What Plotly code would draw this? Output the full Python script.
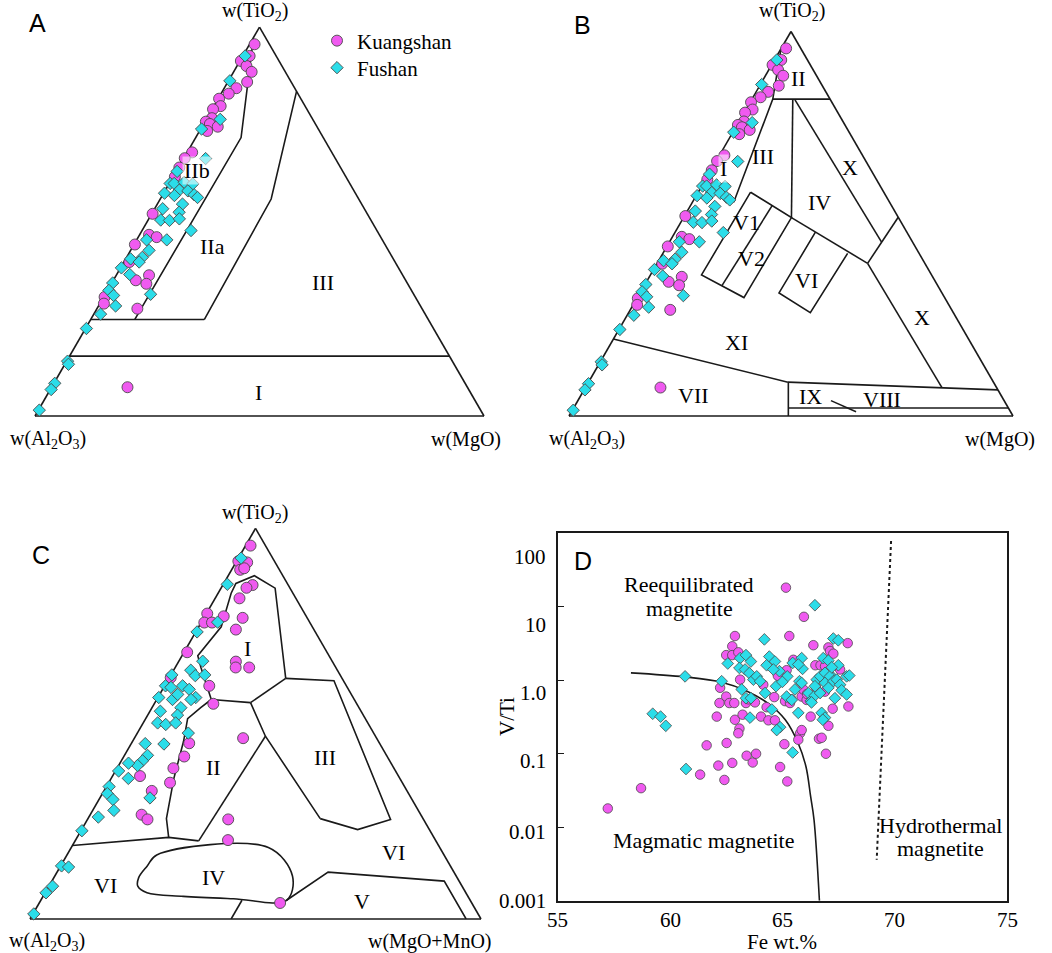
import plotly.graph_objects as go

W, H = 1052, 953
MAG = "#F05AF0"
CYN = "#2BDDE9"
EDGE = "#4a4a4a"
INK = "#1a1a1a"
SERIF = "Liberation Serif, Times New Roman, serif"
SANS = "Liberation Sans, Arial, sans-serif"

# ---------------- data: panels A and B (TiO2 - Al2O3 - MgO), fractions ----------------
AB_K_TiO2 = [0.956, 0.913, 0.926, 0.900, 0.885, 0.859, 0.843, 0.829, 0.816, 0.797, 0.789, 0.766, 0.757, 0.751,
             0.744, 0.733, 0.678, 0.663, 0.639, 0.615, 0.520, 0.466, 0.460, 0.441, 0.396, 0.349, 0.362, 0.340,
             0.306, 0.289, 0.276, 0.074]
AB_K_MgO = [0.011, 0.002, 0.015, 0.021, 0.040, 0.043, 0.027, 0.017, 0.002, 0.015, 0.002, 0.011, 0.002, 0.014,
            0.035, 0.017, 0.011, 0.002, 0.002, 0.004, 0.002, 0.021, 0.041, 0.002, 0.012, 0.050, 0.073, 0.078,
            0.002, 0.009, 0.090, 0.169]
AB_F_TiO2 = [0.926, 0.862, 0.763, 0.738, 0.662, 0.629, 0.598, 0.598, 0.601, 0.597, 0.581, 0.579, 0.573, 0.567,
             0.569, 0.562, 0.545, 0.533, 0.524, 0.504, 0.503, 0.507, 0.477, 0.453, 0.453, 0.426, 0.408, 0.404,
             0.396, 0.381, 0.364, 0.342, 0.323, 0.310, 0.313, 0.283, 0.262, 0.225, 0.141, 0.133, 0.084, 0.068,
             0.015]
AB_F_MgO = [0.005, 0.003, 0.031, 0.002, 0.049, 0.002, 0.002, 0.011, 0.032, 0.053, 0.031, 0.051, 0.002, 0.027,
            0.070, 0.081, 0.056, 0.018, 0.059, 0.028, 0.048, 0.068, 0.109, 0.022, 0.067, 0.041, 0.035, 0.011,
            0.034, 0.002, 0.029, 0.002, 0.003, 0.020, 0.101, 0.038, 0.015, 0.002, 0.002, 0.008, 0.002, 0.002,
            0.002]

# ---------------- data: panel C (TiO2 - Al2O3 - MgO+MnO) ----------------
C_K_TiO2 = [0.956, 0.916, 0.913, 0.894, 0.898, 0.855, 0.848, 0.821, 0.782, 0.759, 0.759, 0.775, 0.771, 0.741,
            0.683, 0.659, 0.644, 0.644, 0.597, 0.551, 0.618, 0.463, 0.450, 0.416, 0.386, 0.349, 0.366, 0.328,
            0.267, 0.255, 0.255, 0.202, 0.041]
C_K_MgOMnO = [0.011, 0.004, 0.025, 0.019, 0.026, 0.066, 0.056, 0.054, 0.002, 0.007, 0.024, 0.042, 0.086, 0.086,
              0.007, 0.127, 0.134, 0.164, 0.099, 0.131, 0.003, 0.241, 0.128, 0.134, 0.125, 0.136, 0.061, 0.106,
              0.114, 0.133, 0.312, 0.338, 0.534]
C_F_TiO2 = [0.924, 0.857, 0.760, 0.735, 0.660, 0.637, 0.623, 0.625, 0.625, 0.597, 0.593, 0.597, 0.588, 0.567,
            0.562, 0.567, 0.562, 0.575, 0.541, 0.532, 0.522, 0.502, 0.498, 0.502, 0.476, 0.449, 0.448, 0.419,
            0.405, 0.393, 0.399, 0.379, 0.360, 0.339, 0.321, 0.306, 0.278, 0.261, 0.310, 0.226, 0.136, 0.133,
            0.084, 0.067, 0.013]
C_F_MgOMnO = [0.006, 0.009, 0.036, 0.003, 0.053, 0.038, 0.055, 0.075, 0.002, 0.002, 0.016, 0.040, 0.059, 0.084,
              0.076, 0.002, 0.035, 0.040, 0.064, 0.023, 0.066, 0.032, 0.052, 0.072, 0.113, 0.031, 0.073, 0.051,
              0.047, 0.042, 0.019, 0.007, 0.038, 0.006, 0.011, 0.031, 0.047, 0.021, 0.111, 0.002, 0.002, 0.019,
              0.008, 0.002, 0.002]

# ---------------- data: panel D (Fe wt.% vs V/Ti) ----------------
D_K_Fe = [65.16, 65.96, 62.89, 65.31, 66.38, 62.77, 67.91, 67.05, 67.12, 67.27,
          62.50, 62.77, 63.04, 63.12, 62.23, 62.50, 62.20, 62.64, 62.86, 63.38,
          63.78, 62.08, 62.89, 63.23, 63.09, 63.04, 61.63, 62.52, 62.15, 62.77,
          63.41, 63.68, 63.83, 62.42, 61.34, 58.71, 57.23, 64.90, 65.22, 65.09,
          64.05, 64.38, 64.67, 64.30, 64.64, 64.15, 65.12, 65.34, 65.86, 65.79,
          65.71, 65.86, 66.26, 66.63, 66.75, 66.94, 67.05, 67.24, 67.94, 65.93,
          66.08, 66.47, 66.70, 65.49, 65.19, 66.90, 67.57, 65.40, 66.10, 66.50,
          64.80, 63.50, 66.90]
D_K_VTi = [18.2, 7.3, 4.0, 4.0, 3.0, 2.9, 3.2, 2.8, 2.5, 2.3,
           2.2, 2.2, 2.4, 1.02, 0.79, 0.60, 0.49, 0.49, 0.49, 0.49,
           0.50, 0.32, 0.29, 0.34, 0.22, 0.19, 0.13, 0.14, 0.069, 0.075,
           0.094, 0.076, 0.10, 0.044, 0.052, 0.034, 0.018, 0.066, 0.042, 0.135,
           0.32, 0.285, 0.285, 0.43, 0.59, 0.87, 0.52, 0.49, 0.60, 0.19,
           0.155, 0.21, 0.32, 0.16, 0.165, 0.10, 0.24, 0.41, 0.44, 0.75,
           0.54, 1.6, 1.6, 1.9, 1.37, 1.55, 1.4, 0.55, 0.65, 0.80,
           1.15, 0.55, 0.70]
D_F_Fe = [66.45, 64.20, 67.27, 67.49, 60.67, 62.30, 59.23, 59.58, 59.81, 60.71,
          65.46, 64.90, 64.75, 64.53, 63.56, 66.75, 66.90, 66.80, 65.71, 62.57,
          63.12, 63.38, 63.60, 63.09, 63.34, 63.53, 64.42, 64.67, 64.30, 64.87,
          65.22, 65.46, 65.86, 65.90, 65.71, 66.82, 67.05, 67.49, 67.27, 67.86,
          67.98, 63.71, 63.86, 64.01, 63.19, 63.38, 63.60, 64.23, 64.72, 65.19,
          65.42, 65.56, 65.76, 65.86, 66.16, 66.26, 66.45, 66.53, 66.45, 66.68,
          66.90, 66.90, 67.12, 67.27, 67.42, 67.57, 66.68, 67.05, 67.34, 67.64,
          67.86, 66.30, 65.00, 64.60, 67.20]
D_F_VTi = [10.5, 3.6, 3.7, 3.5, 1.13, 0.97, 0.35, 0.32, 0.24, 0.062,
           0.104, 0.23, 0.21, 0.40, 0.31, 0.36, 0.31, 0.29, 0.36, 1.69,
           2.0, 2.2, 1.8, 1.47, 1.40, 1.25, 2.1, 1.8, 1.6, 1.33,
           1.13, 1.72, 2.0, 1.43, 1.64, 2.0, 1.85, 1.6, 1.08, 1.13,
           1.16, 1.02, 1.13, 0.97, 0.75, 0.57, 0.57, 0.67, 0.83, 0.60,
           0.54, 0.75, 0.97, 0.92, 0.67, 0.52, 0.62, 1.02, 0.83, 1.13,
           1.26, 0.92, 1.13, 0.97, 1.02, 0.87, 0.67, 0.79, 0.57, 0.73,
           0.64, 0.50, 0.95, 1.4, 1.5]
D_curve_Fe = [58.26, 60.67, 62.30, 63.43, 64.42, 65.13, 65.70, 66.05, 66.26, 66.41, 66.65]
D_curve_VTi = [1.26, 1.11, 0.94, 0.71, 0.47, 0.29, 0.14, 0.067, 0.026, 0.0126, 0.001]
D_hydro_Fe = [69.84, 69.20]
D_hydro_VTi = [78.5, 0.0036]
D_xticks = [55, 60, 65, 70, 75]
D_yticks = [0.001, 0.01, 0.1, 1, 10, 100]
D_ytick_text = ["0.001", "0.01", "0.1", "1.0", "10", "100"]
D_ytick_label_pos = [-3.0, -2.059, -1.105, -0.173, 0.75, 1.682]   # log10 positions where labels are printed

# ---------------- field boundaries (TiO2 fraction, MgO fraction) ----------------
A_bounds = [
    ([0.973, 0.716, 0.248], [0.0, 0.101, 0.098]),
    ([0.248, 0.248], [0.0, 0.253]),
    ([0.248, 0.558, 0.835], [0.253, 0.247, 0.165]),
    ([0.154, 0.154], [0.0, 0.846]),
]
B_bounds = [
    ([0.955, 0.824, 0.556], [0.0, 0.047, 0.093]),
    ([0.824, 0.824], [0.047, 0.176]),
    ([0.824, 0.516], [0.092, 0.243]),
    ([0.822, 0.452], [0.098, 0.478]),
    ([0.397, 0.517], [0.474, 0.483]),
    ([0.397, 0.074], [0.474, 0.803]),
    ([0.582, 0.367, 0.308, 0.516, 0.582], [0.118, 0.115, 0.240, 0.243, 0.118]),
    ([0.547, 0.339], [0.184, 0.175]),
    ([0.516, 0.397], [0.243, 0.474]),
    ([0.478, 0.320, 0.269, 0.423], [0.316, 0.313, 0.409, 0.416]),
    ([0.200, 0.088], [0.0, 0.449]),
    ([0.088, 0.068], [0.449, 0.932]),
    ([0.088, 0.0], [0.450, 0.494]),
    ([0.0206, 0.0206], [0.484, 0.979]),
    ([0.040, 0.011], [0.570, 0.641]),
]
C_bounds = [
    ([0.188, 0.209, 0.200], [0.0, 0.203, 0.274]),
    ([0.200, 0.468], [0.274, 0.288]),
    ([0.554, 0.468, 0.257], [0.212, 0.288, 0.515]),
    ([0.257, 0.229, 0.255, 0.610, 0.616], [0.515, 0.612, 0.672, 0.369, 0.259]),
    ([0.616, 0.554], [0.259, 0.212]),
    ([0.209, 0.257, 0.360, 0.455, 0.513, 0.541, 0.562], [0.203, 0.174, 0.139, 0.113, 0.093, 0.108, 0.121]),
    ([0.562, 0.554], [0.121, 0.212]),
    ([0.562, 0.644, 0.674, 0.748, 0.834, 0.859, 0.879, 0.847, 0.616],
     [0.121, 0.057, 0.035, 0.050, 0.029, 0.027, 0.058, 0.120, 0.259]),
    ([0.048, 0.0], [0.446, 0.446]),
    ([0.048, 0.120, 0.097, 0.0], [0.545, 0.601, 0.870, 0.967]),
]
C_blob = ([0.164, 0.183, 0.110, 0.048, 0.052, 0.058, 0.067, 0.084, 0.106, 0.136, 0.164],
          [0.199, 0.437, 0.527, 0.545, 0.425, 0.311, 0.226, 0.197, 0.188, 0.192, 0.199])

fig = go.Figure()


def rest(a_list, c_list):
    return [max(0.0, round(1 - a - c, 4)) for a, c in zip(a_list, c_list)]


def add_bound(sub, a_list, c_list, shape="linear"):
    fig.add_trace(go.Scatterternary(
        a=a_list, b=rest(a_list, c_list), c=c_list, mode="lines", subplot=sub,
        line=dict(color=INK, width=1.6, shape=shape), showlegend=False,
        hoverinfo="skip", cliponaxis=False))


def add_pts(sub, a_list, c_list, name, legend):
    circle = name == "Kuangshan"
    fig.add_trace(go.Scatterternary(
        a=a_list, b=rest(a_list, c_list), c=c_list, mode="markers", subplot=sub, name=name,
        marker=dict(symbol="circle" if circle else "diamond", size=11 if circle else 9.5,
                    color=MAG if circle else CYN, line=dict(color=EDGE, width=0.9)),
        showlegend=legend, cliponaxis=False, legend="legend" if circle else "legend2"))


for a_l, c_l in A_bounds:
    add_bound("ternary", a_l, c_l)
add_pts("ternary", AB_K_TiO2, AB_K_MgO, "Kuangshan", True)
add_pts("ternary", AB_F_TiO2, AB_F_MgO, "Fushan", True)

for a_l, c_l in B_bounds:
    add_bound("ternary2", a_l, c_l)
add_pts("ternary2", AB_K_TiO2, AB_K_MgO, "Kuangshan", False)
add_pts("ternary2", AB_F_TiO2, AB_F_MgO, "Fushan", False)

for a_l, c_l in C_bounds:
    add_bound("ternary3", a_l, c_l)
add_bound("ternary3", C_blob[0], C_blob[1], shape="spline")
add_pts("ternary3", C_K_TiO2, C_K_MgOMnO, "Kuangshan", False)
add_pts("ternary3", C_F_TiO2, C_F_MgOMnO, "Fushan", False)

# panel D
fig.add_trace(go.Scatter(x=D_curve_Fe, y=D_curve_VTi, mode="lines", xaxis="x", yaxis="y",
                         line=dict(color=INK, width=1.6, shape="spline", smoothing=1.0),
                         showlegend=False, hoverinfo="skip"))
fig.add_trace(go.Scatter(x=D_hydro_Fe, y=D_hydro_VTi, mode="lines", xaxis="x", yaxis="y",
                         line=dict(color=INK, width=2, dash="dot"), showlegend=False, hoverinfo="skip"))
fig.add_trace(go.Scatter(x=D_K_Fe, y=D_K_VTi, mode="markers", xaxis="x", yaxis="y", name="Kuangshan",
                         marker=dict(symbol="circle", size=9.5, color=MAG, line=dict(color=EDGE, width=0.8)),
                         showlegend=False))
fig.add_trace(go.Scatter(x=D_F_Fe, y=D_F_VTi, mode="markers", xaxis="x", yaxis="y", name="Fushan",
                         marker=dict(symbol="diamond", size=9, color=CYN, line=dict(color=EDGE, width=0.8)),
                         showlegend=False))

tax = dict(showticklabels=False, ticks="", showgrid=False, showline=True, linecolor=INK, linewidth=1.6,
           layer="below traces", title=dict(text=""))


def tern_layout(left, right, bottom):
    w = right - left
    h = w * 3 ** 0.5 / 2
    cy = bottom - h / 2
    half = h / 2 + 3
    return dict(domain=dict(x=[left / W, right / W], y=[1 - (cy + half) / H, 1 - (cy - half) / H]),
                sum=1, bgcolor="rgba(0,0,0,0)", aaxis=tax, baxis=tax, caxis=tax)


annots = []


def P(x, y):
    return x / W, 1 - y / H


def txt(x, y, s, size=21, family=SERIF, **kw):
    px, py = P(x, y)
    d = dict(x=px, y=py, xref="paper", yref="paper", text=s, showarrow=False,
             font=dict(family=family, size=size, color="black"), xanchor="center", yanchor="middle")
    d.update(kw)
    annots.append(d)


TI = "w(TiO<sub>2</sub>)"
AL = "w(Al<sub>2</sub>O<sub>3</sub>)"
# Panel A
txt(38, 23, "A", size=25, family=SANS)
txt(255, 12, TI, size=20)
txt(48, 440, AL, size=20)
txt(466, 440, "w(MgO)", size=20)
txt(197, 170, "IIb", size=22, bgcolor="rgba(255,255,255,0.55)")
txt(212, 247, "IIa", size=22)
txt(323, 282, "III", size=22)
txt(258, 392, "I", size=22)
# Panel B
txt(582, 25, "B", size=25, family=SANS)
txt(792, 12, TI, size=20)
txt(587, 440, AL, size=20)
txt(1000, 440, "w(MgO)", size=20)
for (x, y, s) in [(798, 78, "II"), (763, 157, "III"), (850, 167, "X"), (819, 202, "IV"),
                  (746, 222, "V1"), (751, 259, "V2"), (806, 280, "VI"), (922, 317, "X"), (736, 343, "XI"),
                  (693, 396, "VII"), (810, 397, "IX"), (882, 399, "VIII")]:
    txt(x, y, s, size=22)
txt(723, 168, "I", size=22, bgcolor="rgba(255,255,255,0.55)")
# Panel C
txt(41, 555, "C", size=25, family=SANS)
txt(255, 513, TI, size=20)
txt(47, 941, AL, size=20)
txt(430, 941, "w(MgO+MnO)", size=20)
for (x, y, s) in [(247, 648, "I"), (213, 767, "II"), (325, 757, "III"), (105, 885, "VI"), (213, 877, "IV"),
                  (362, 901, "V"), (393, 852, "VI")]:
    txt(x, y, s, size=22)
# Panel D
txt(583, 561, "D", size=25, family=SANS)
txt(689, 584, "Reequilibrated", size=22)
txt(689, 608, "magnetite", size=22)
txt(703, 840, "Magmatic magnetite", size=22)
txt(940, 825, "Hydrothermal", size=22)
txt(940, 848, "magnetite", size=22)
txt(782, 942, "Fe wt.%", size=21)
txt(507, 717, "V/Ti", size=21, textangle=-90)
for lab, pos in zip(D_ytick_text, D_ytick_label_pos):
    annots.append(dict(x=P(548, 0)[0], y=pos, xref="paper", yref="y", text=lab, showarrow=False,
                       font=dict(family=SERIF, size=21, color="black"), xanchor="right", yanchor="middle"))
for v in D_xticks:
    annots.append(dict(x=v, y=P(0, 920)[1], xref="x", yref="paper", text=str(v), showarrow=False,
                       font=dict(family=SERIF, size=21, color="black"), xanchor="center", yanchor="middle"))

fig.update_layout(
    width=W, height=H, margin=dict(l=0, r=0, t=0, b=0),
    paper_bgcolor="white", plot_bgcolor="white",
    ternary=tern_layout(35, 484, 416),
    ternary2=tern_layout(569, 1013, 416),
    ternary3=tern_layout(30, 481, 919),
    xaxis=dict(domain=[557.7 / W, 1007 / W], range=[55, 75], showline=True, mirror=True, linecolor=INK,
               linewidth=1.6, ticks="", tickvals=D_xticks, showticklabels=False, showgrid=False,
               zeroline=False, anchor="y"),
    yaxis=dict(domain=[1 - 900.7 / H, 1 - 533.3 / H], type="log", range=[-3, 2], showline=True, mirror=True,
               linecolor=INK, linewidth=1.6, ticks="inside", ticklen=6, tickwidth=1.2, tickcolor=INK,
               tickvals=D_yticks, showticklabels=False, showgrid=False, zeroline=False, anchor="x"),
    legend=dict(x=317 / W, y=1 - 20.5 / H, xanchor="left", yanchor="top", bgcolor="rgba(0,0,0,0)",
                font=dict(family=SERIF, size=21, color="black")),
    legend2=dict(x=317 / W, y=1 - 47.5 / H, xanchor="left", yanchor="top", bgcolor="rgba(0,0,0,0)",
                 font=dict(family=SERIF, size=21, color="black")),
    annotations=annots,
    showlegend=True,
)

fig.write_html("out.html", config={"displayModeBar": False},
               post_script="document.body.style.margin='0px';document.body.style.overflow='hidden';")
